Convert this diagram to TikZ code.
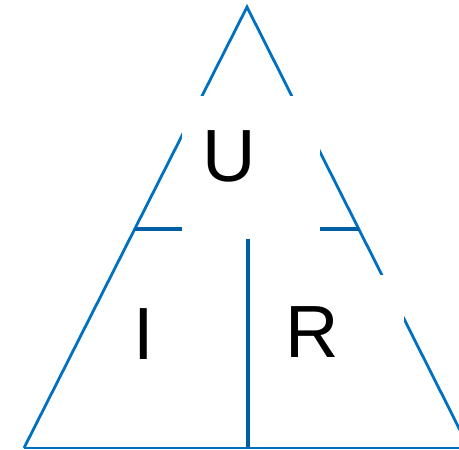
\documentclass[tikz,border=0pt]{standalone}
\usepackage{fontspec}
\setmainfont{Liberation Sans}
\definecolor{triblue}{RGB}{0,112,192}
\definecolor{darkblue}{RGB}{0,94,162}
\begin{document}
\begin{tikzpicture}[x=1pt,y=1pt,
  side/.style={draw=triblue,line width=2.8pt,line join=miter},
  divider/.style={draw=darkblue,line width=4.2pt},
  letter/.style={anchor=base,inner sep=0pt,font=\fontsize{74}{74}\selectfont}]
\useasboundingbox (0,0) rectangle (459,450);
\clip (0,0) rectangle (459,450);
\coordinate (apex) at (247,443);
\coordinate (bl) at (24,2);
\coordinate (br) at (469,2);
\coordinate (hl) at (135,221);
\coordinate (hr) at (359,221);
\coordinate (vt) at (248,211);
\coordinate (vb) at (248,2);
\draw[side] (bl) -- (apex) -- (br);
\draw[draw=triblue,line width=2pt] (bl) -- (br);
\draw[divider] (hl) -- (hr);
\draw[divider] (vt) -- (vb);
% white label backgrounds
\fill[white] (182,211) rectangle (320,354);
\fill[white] (262,50) rectangle (404,175);
\node[letter] (U) at (229,268) {U};
\node[letter] (I) at (144,90) {I};
\node[letter] (R) at (312,92) {R};
\end{tikzpicture}
\end{document}
